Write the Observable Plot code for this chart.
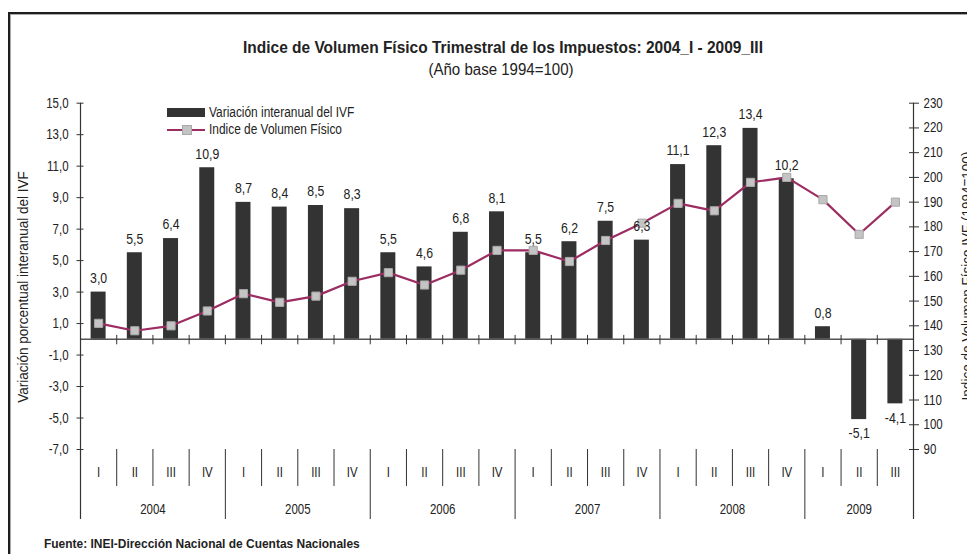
<!DOCTYPE html>
<html><head><meta charset="utf-8">
<script src="https://cdn.jsdelivr.net/npm/d3@7"></script>
<script src="https://cdn.jsdelivr.net/npm/@observablehq/plot@0.6"></script>
<style>
body{margin:0;background:#fff;}
#wrap{position:relative;width:967px;height:554px;overflow:hidden;font-family:"Liberation Sans",Arial,sans-serif;color:#222;}
.t{position:absolute;white-space:nowrap;line-height:1;}
#frame{position:absolute;left:8px;top:12px;width:1000px;height:600px;border-left:2px solid #1e1e1e;border-top:2px solid #1e1e1e;box-shadow:inset 1px 1px 0 #aaa;}
#wrap svg{position:absolute;left:0;top:0;}
.nar{display:inline-block;transform:scaleX(0.85);transform-origin:left center;}
</style></head><body><div id="wrap"><div id="frame"></div></div>
<script>
// ---- data ----
const quarters = ["I","II","III","IV","I","II","III","IV","I","II","III","IV","I","II","III","IV","I","II","III","IV","I","II","III"];
const years = ["2004","2005","2006","2007","2008","2009"];
const yearQuarterCount = [4,4,4,4,4,3];
const variacion = [3.0,5.5,6.4,10.9,8.7,8.4,8.5,8.3,5.5,4.6,6.8,8.1,5.5,6.2,7.5,6.3,11.1,12.3,13.4,10.2,0.8,-5.1,-4.1];
const ivf = [141,138,140,146,153,149.5,152,158,161.5,156.5,162.5,170.5,170.5,166,174.5,181.5,189.5,186.5,198,200,191,177,190];
const leftTicks = [15,13,11,9,7,5,3,1,-1,-3,-5,-7];
const rightTicks = [230,220,210,200,190,180,170,160,150,140,130,120,110,100,90];

const title = "Indice de Volumen Físico Trimestral de los Impuestos: 2004_I - 2009_III";
const subtitle = "(Año base 1994=100)";
const seriesBar = "Variación interanual del IVF";
const seriesLine = "Indice de Volumen Físico";
const yLeftLabel = "Variación porcentual interanual del IVF";
const yRightLabel = "Indice de Volumen Físico IVF (1994=100)";
const source = "Fuente: INEI-Dirección Nacional de Cuentas  Nacionales";

// ---- helpers ----
const FONT = '"Liberation Sans",Arial,sans-serif';
const NARROW = 0.82; // Arial -> Arial Narrow look
const L0 = -7, L1 = 15, R0 = 90, R1 = 230;
const toLeft = r => L0 + (r - R0) * (L1 - L0) / (R1 - R0);
const toRight = l => R0 + (l - L0) * (R1 - R0) / (L1 - L0);
const fmt = v => v.toFixed(1).replace(".", ",");

const rows = variacion.map((v, i) => ({i, q: quarters[i], v, ivf: ivf[i]}));
let acc = 0;
const yearRows = years.map((y, k) => { const s = acc; acc += yearQuarterCount[k]; return {y, start: s, end: acc}; });
const nQ = quarters.length;

// vertical layout levels (in left-axis units) for the category axis below the plot
const yQuarterLineEnd = -9.35, yQuarterText = -8.45, yYearText = -10.8, yAxisEnd = -11.45;

const inner = d3.range(1, nQ);
const yearBounds = yearRows.slice(1).map(d => d.start);
const quarterBounds = inner.filter(k => !yearBounds.includes(k));

const chart = Plot.plot({
  width: 967, height: 554,
  marginLeft: 80, marginRight: 54, marginTop: 103, marginBottom: 105,
  style: {fontFamily: FONT, fontSize: "14px", color: "#222", background: "transparent", overflow: "visible"},
  x: {type: "linear", domain: [0, nQ], range: [80, 913], axis: null},
  y: {domain: [L0, L1], range: [449, 102.7], axis: null},
  marks: [
    Plot.rect(rows, {x1: d => d.i + 0.293, x2: d => d.i + 0.707, y1: 0, y2: "v", fill: "#333333"}),
    Plot.ruleY([0], {x1: 0, x2: nQ, stroke: "#555", strokeWidth: 1.5}),
    Plot.ruleX(inner, {x: d => d, y1: 0.25, y2: -0.35, stroke: "#333"}),
    Plot.line(rows, {x: d => d.i + 0.5, y: d => toLeft(d.ivf), stroke: "#9b2d62", strokeWidth: 2.2}),
    Plot.dot(rows, {x: d => d.i + 0.5, y: d => toLeft(d.ivf), symbol: "square", r: 4.6, fill: "#c4c4c4", stroke: "#a8a8a8", strokeWidth: 1}),
    Plot.text(rows.filter(d => d.v >= 0), {x: d => d.i + 0.5, y: "v", text: d => fmt(d.v), dy: -14, fill: "#222", fontSize: 15}),
    Plot.text(rows.filter(d => d.v < 0), {x: d => d.i + 0.5, y: "v", text: d => fmt(d.v), dy: 14, fill: "#222", fontSize: 15}),
    // axis lines
    Plot.ruleX([0, nQ], {x: d => d, y1: L1, y2: yAxisEnd, stroke: "#333", strokeWidth: 1.2}),
    // category axis
    Plot.ruleX(quarterBounds, {x: d => d, y1: L0, y2: yQuarterLineEnd, stroke: "#333"}),
    Plot.ruleX(yearBounds, {x: d => d, y1: L0, y2: yAxisEnd, stroke: "#333"}),
    Plot.text(rows, {x: d => d.i + 0.5, y: () => yQuarterText, text: "q", fill: "#222", fontSize: 14}),
    Plot.text(yearRows, {x: d => (d.start + d.end) / 2, y: () => yYearText, text: "y", fill: "#222", fontSize: 14}),
    // left axis
    Plot.axisY(leftTicks, {anchor: "left", tickSize: 7, dx: 3.5, tickPadding: 8.5, tickFormat: fmt, label: null, stroke: "#333", fontSize: 14}),
    // right axis
    Plot.axisY(rightTicks.map(toLeft), {anchor: "right", tickSize: 10, dx: -5, tickPadding: 5, tickFormat: d => String(Math.round(toRight(d))), label: null, stroke: "#333", fontSize: 14})
  ]
});
const wrap = document.getElementById("wrap");
wrap.appendChild(chart);

// condense every SVG text horizontally around its anchor point
chart.querySelectorAll("text").forEach(t => {
  const b = t.getBBox();
  const anchor = getComputedStyle(t).textAnchor;
  const ax = anchor === "middle" ? b.x + b.width / 2 : anchor === "end" ? b.x + b.width : b.x;
  const tr = t.getAttribute("transform") || "";
  t.setAttribute("transform", tr + ` translate(${ax},0) scale(${NARROW},1) translate(${-ax},0)`);
});

function addText(txt, x, y, css, opts = {}) {
  const d = document.createElement("div");
  d.className = "t";
  d.textContent = txt;
  d.style.left = x + "px"; d.style.top = y + "px";
  const s = opts.scale || NARROW;
  d.style.transform = (opts.left ? "translate(0,-50%)" : "translate(-50%,-50%)") + (opts.rotate ? " rotate(-90deg)" : "") + ` scaleX(${s})`;
  if (opts.left) d.style.transformOrigin = "left center";
  Object.assign(d.style, css);
  wrap.appendChild(d);
  return d;
}
addText(title, 503, 47, {fontSize: "17px", fontWeight: "bold"}, {scale: 0.91});
addText(subtitle, 501, 70, {fontSize: "16px"}, {scale: 0.94});
addText(yLeftLabel, 22, 287, {fontSize: "15px"}, {rotate: true, scale: 0.9});
addText(yRightLabel, 966, 276, {fontSize: "15px"}, {rotate: true, scale: 0.9});
addText(source, 44, 543, {fontSize: "13px", fontWeight: "bold"}, {left: true, scale: 0.92});

// legend
const lg = document.createElement("div");
lg.style.cssText = "position:absolute;left:167px;top:104px;font-size:14px;line-height:17px;";
lg.innerHTML =
  '<div style="display:flex;align-items:center;height:17px"><span style="display:inline-block;width:38px;height:9px;background:#333"></span><span class="nar" style="margin-left:4px">' + seriesBar + '</span></div>' +
  '<div style="display:flex;align-items:center;height:17px"><span style="position:relative;display:inline-block;width:38px;height:9px"><span style="position:absolute;left:0;top:3.5px;width:38px;height:2px;background:#9b2d62"></span><span style="position:absolute;left:15px;top:0;width:8px;height:8px;background:#c4c4c4;border:0.5px solid #a8a8a8"></span></span><span class="nar" style="margin-left:4px">' + seriesLine + '</span></div>';
wrap.appendChild(lg);
</script>
</body></html>
